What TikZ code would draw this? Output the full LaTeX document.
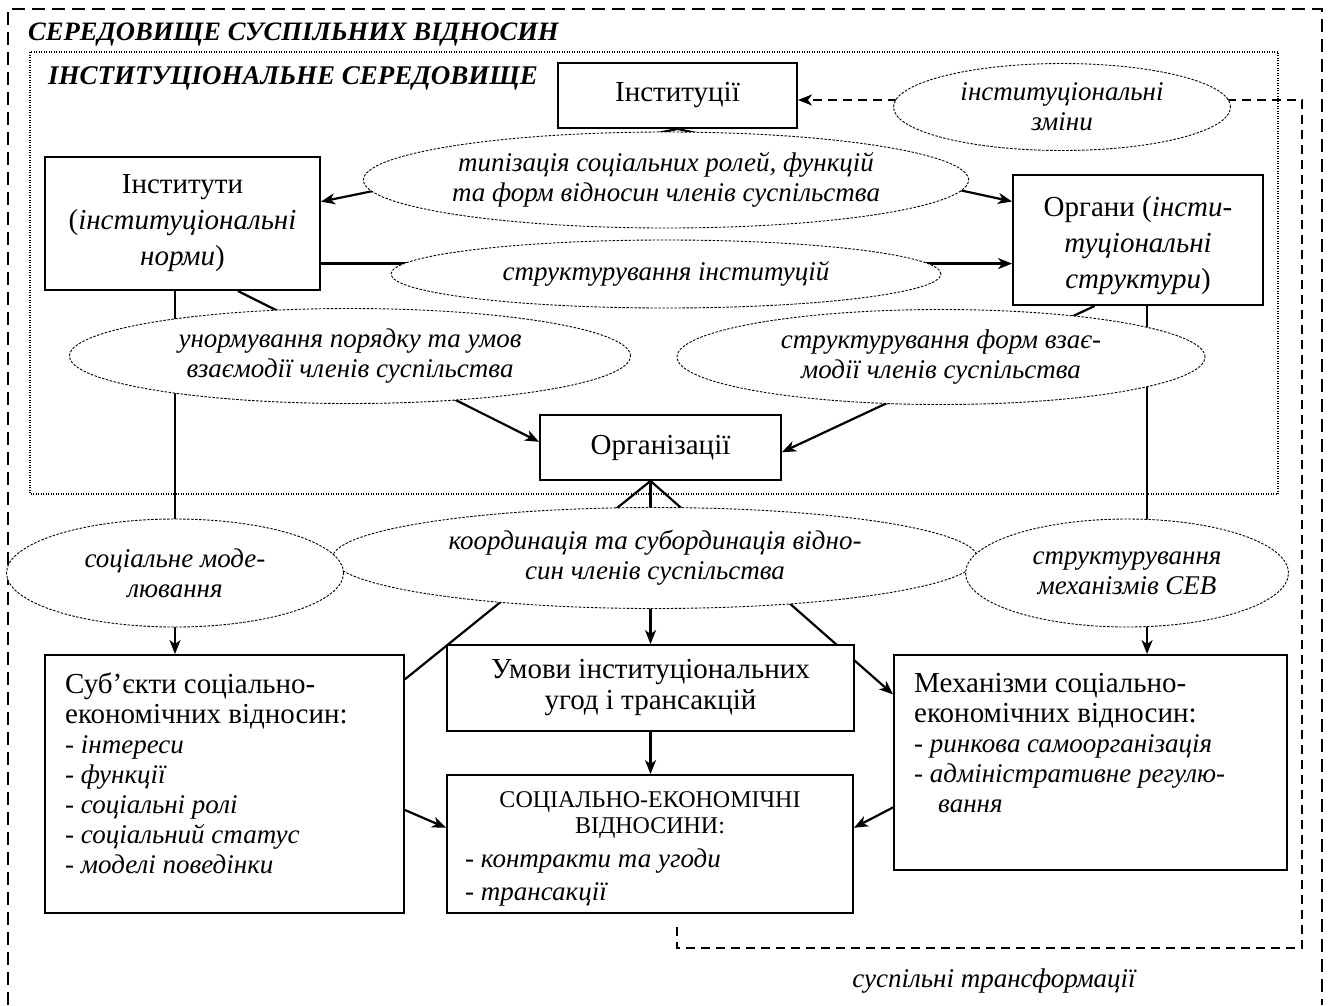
\documentclass[tikz,border=0pt]{standalone}
\usepackage{fontspec}
\setmainfont{Liberation Serif}
\usetikzlibrary{shapes.geometric,arrows.meta,calc,backgrounds}
\newcommand{\fRm}{\fontsize{29}{36}\selectfont}
\newcommand{\fIt}{\fontsize{27}{30}\selectfont\itshape}
\newcommand{\fTitle}{\fontsize{26.6}{30}\selectfont\bfseries\itshape}
\begin{document}
\begin{tikzpicture}[x=1pt,y=-1pt,
 box/.style={rectangle,draw,line width=1.9pt,fill=white,inner sep=0pt,align=center,font=\fRm},
 oval/.style={ellipse,draw,line width=0.9pt,dash pattern=on 2.5pt off 1.5pt,fill=white,inner sep=0pt,align=center,font=\fIt},
 conn/.style={line width=2.2pt},
 arr/.style={line width=2.2pt,-{Stealth[length=14pt,width=11pt,inset=4pt]}},
 dconn/.style={line width=2pt,dash pattern=on 9pt off 6pt},
 darr/.style={dconn,-{Stealth[length=14pt,width=11pt,inset=4pt]}},
 frame/.style={line width=1.6pt,dash pattern=on 13pt off 7pt},
 innerdot/.style={line width=1.2pt,dash pattern=on 1pt off 1.5pt},
 ttl/.style={font=\fTitle,anchor=west,inner sep=0pt},
 txt/.style={inner sep=0pt,align=left}]
\useasboundingbox (0,0) rectangle (1329,1005);

% outer frame
\draw[frame] (8,1005) -- (8,9) -- (1322,9) -- (1322,1005);

% titles
\node[ttl] (t1) at (28,35) {СЕРЕДОВИЩЕ СУСПІЛЬНИХ ВІДНОСИН};
\node[ttl,font=\fontsize{27}{30}\selectfont\bfseries\itshape] (t2) at (48,78) {ІНСТИТУЦІОНАЛЬНЕ СЕРЕДОВИЩЕ};

% ellipses
\node[oval,minimum width=645pt,minimum height=101pt] (coord) at (655,558) {координація та субординація відно-\\син членів суспільства};
\node[oval,minimum width=337pt,minimum height=108pt] (socmod) at (175,573) {соціальне моде-\\лювання};
\node[oval,minimum width=323pt,minimum height=108pt] (strmech) at (1127,573) {структурування\\механізмів СЕВ};
\node[oval,minimum width=337pt,minimum height=87pt] (zminy) at (1062,107) {інституціональні\\зміни};
\node[oval,minimum width=600pt,minimum height=96pt] (typ) at (666,180) {типізація соціальних ролей, функцій\\та форм відносин членів суспільства};
\node[oval,minimum width=550pt,minimum height=68pt] (strinst) at (666,274) {структурування інституцій};
\node[oval,minimum width=561pt,minimum height=95pt] (unorm) at (350,356) {унормування порядку та умов\\взаємодії членів суспільства};
\node[oval,minimum width=528pt,minimum height=95pt] (strforms) at (941,357) {структурування форм взає-\\модії членів суспільства};

% boxes
\node[box,minimum width=239pt,minimum height=65pt] (inst) at (677.5,95.5) {Інституції};
\node[box,minimum width=275pt,minimum height=133pt] (instt) at (182.5,223.5) {Інститути\\(\textit{інституціональні}\\\textit{норми})};
\node[box,minimum width=250pt,minimum height=130pt] (organ) at (1138,240) {};
\node[txt,align=center,font=\fRm] (organt) at (1138,246) {Органи (\textit{інсти-}\\\textit{туціональні}\\\textit{структури})};
\node[box,minimum width=241pt,minimum height=65pt] (org) at (660.5,447.5) {Організації};
\node[box,minimum width=359pt,minimum height=258pt] (subj) at (224.5,784) {};
\node[box,minimum width=407pt,minimum height=86pt,font=\fontsize{29}{31}\selectfont] (umovy) at (650.5,688) {Умови інституціональних\\угод і трансакцій};
\node[box,minimum width=406pt,minimum height=138pt] (sev) at (650,844) {};
\node[box,minimum width=393pt,minimum height=215pt] (mech) at (1090.5,762.5) {};

% texts inside boxes
\node[txt,anchor=west,font=\fontsize{27}{30}\selectfont] (subjt) at (65,773) {{\fontsize{29}{30}\selectfont Суб’єкти соціально-}\\{\fontsize{29}{30}\selectfont економічних відносин:}\\- \textit{інтереси}\\- \textit{функції}\\- \textit{соціальні ролі}\\- \textit{соціальний статус}\\- \textit{моделі поведінки}};
\node[txt,align=center,font=\fontsize{24}{26}\selectfont] (sevh) at (650,815) {СОЦІАЛЬНО-ЕКОНОМІЧНІ\\ВІДНОСИНИ:};
\node[txt,anchor=west,font=\fontsize{27}{33}\selectfont] (sevl) at (465,877) {- \textit{контракти та угоди}\\- \textit{трансакції}};
\node[txt,anchor=west,font=\fontsize{27}{30}\selectfont] (mecht) at (914,743) {{\fontsize{29}{30}\selectfont Механізми соціально-}\\{\fontsize{29}{30}\selectfont економічних відносин:}\\- \textit{ринкова самоорганізація}\\- \textit{адміністративне регулю-}\\\hspace*{24pt}\textit{вання}};

\node[font=\fIt,inner sep=0pt] (trans) at (994,981) {суспільні трансформації};

% dashed connector corners
\coordinate (dTR) at (1302,100);
\coordinate (dBR) at (1302,948);
\coordinate (dBL) at (677,948);
\coordinate (dEnd) at (677,922);

\begin{scope}[on background layer]
\draw[innerdot] (30,52) rectangle (1278,494);
\draw[arr] (inst.south) -- ($(instt.north east)!.338!(instt.south east)$);
\draw[arr] (inst.south) -- ($(organ.north west)!.208!(organ.south west)$);
\coordinate (h1) at ($(instt.north east)!.797!(instt.south east)$);
\draw[arr] (h1) -- (organ.west |- h1);
\draw[arr] ($(instt.south west)!.70!(instt.south east)$) -- ($(org.north west)!.415!(org.south west)$);
\draw[arr] ($(organ.south west)!.328!(organ.south east)$) -- ($(org.north east)!.57!(org.south east)$);
\draw[conn] (socmod.north |- instt.south) -- (socmod.center);
\draw[arr] (socmod.center) -- (socmod.center |- subj.north);
\coordinate (v2) at ($(organ.south west)!.536!(organ.south east)$);
\draw[conn] (v2) -- (v2 |- strmech.center);
\draw[arr] (v2 |- strmech.center) -- (v2 |- mech.north);
\coordinate (o1) at (umovy.north |- org.south);
\draw[arr] (o1) -- (umovy.north);
\draw[conn] (o1) -- ($(subj.north east)!.097!(subj.south east)$);
\draw[arr] (o1) -- ($(mech.north west)!.186!(mech.south west)$);
\draw[arr] (umovy.south) -- (umovy.south |- sev.north);
\draw[arr] ($(subj.north east)!.6!(subj.south east)$) -- ($(sev.north west)!.384!(sev.south west)$);
\draw[arr] ($(mech.north west)!.707!(mech.south west)$) -- ($(sev.north east)!.384!(sev.south east)$);
\draw[darr] (zminy.center |- dTR) -- (inst.east |- dTR);
\draw[dconn] (zminy.center |- dTR) -- (dTR) -- (dBR) -- (dBL) -- (dEnd);
\end{scope}
\end{tikzpicture}
\end{document}
